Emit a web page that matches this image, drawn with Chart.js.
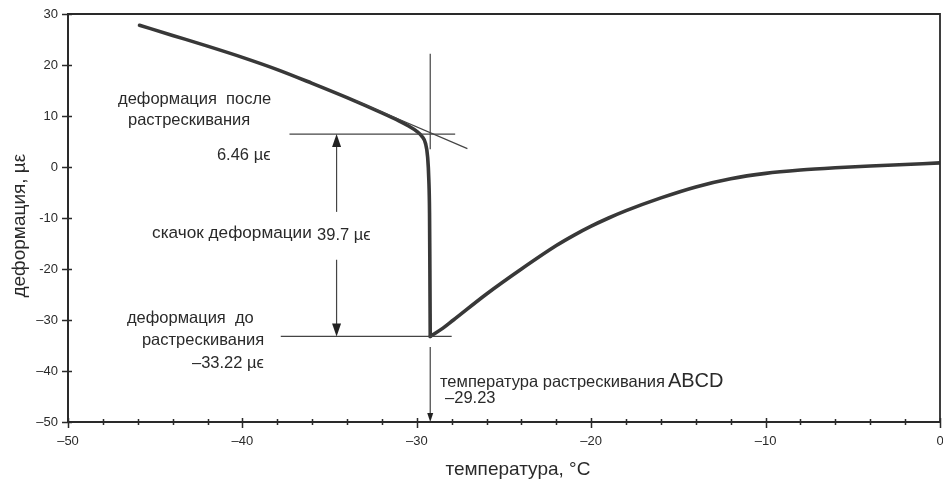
<!DOCTYPE html>
<html>
<head>
<meta charset="utf-8">
<script src="https://cdn.jsdelivr.net/npm/chart.js@4/dist/chart.umd.min.js"></script>
<style>
  html, body { margin: 0; padding: 0; background: #fff; }
  #wrap { width: 943px; height: 482px; }
</style>
</head>
<body>
<div id="wrap"><canvas id="c" width="943" height="482"></canvas></div>
<script>
// Cooling branch: strain (µε) vs temperature (°C) until the specimen cracks
const coolingTemp   = [-45.9, -44, -42, -40, -38, -36, -34, -32, -31, -30.5, -30, -29.7, -29.5, -29.38, -29.31, -29.27, -29.25, -29.23];
const coolingStrain = [27.8, 25.8, 23.7, 21.5, 19.1, 16.4, 13.6, 10.6, 9.0, 8.1, 7.0, 6.0, 4.6, 2.0, -2.5, -9, -20, -33.22];

// Branch after cracking: strain recovers towards zero
const releaseTemp   = [-29.23, -28.5, -27.9, -26, -24, -22, -21, -20, -19, -18, -16, -14, -12, -10, -8, -6, -4, -2, 0];
const releaseStrain = [-33.22, -31.6, -30.0, -24.9, -20.0, -15.4, -13.4, -11.6, -10.0, -8.55, -6.05, -3.9, -2.3, -1.25, -0.6, -0.15, 0.2, 0.5, 0.8];

// Characteristic values of the test
const crackTemp = -29.23;
const strainAfterCrack = 6.46;
const strainBeforeCrack = -33.22;
const strainJump = 39.7;

// Axis ticks
const xTickValues = [-50, -40, -30, -20, -10, 0];
const xTickLabels = ['–50', '–40', '–30', '–20', '–10', '0'];
const yTickValues = [-50, -40, -30, -20, -10, 0, 10, 20, 30];
const yTickLabels = ['–50', '–40', '–30', '-20', '-10', '0', '10', '20', '30'];

const FONT = '"Liberation Sans", Arial, sans-serif';
const INK = '#2a2a2a';

const pts = (xs, ys) => xs.map((x, i) => ({ x, y: ys[i] }));
const seg = (x1, y1, x2, y2) => [{ x: x1, y: y1 }, { x: x2, y: y2 }];

const thin = { borderColor: '#444', borderWidth: 1.2, pointRadius: 0, tension: 0, fill: false };
const curve = { borderColor: '#383838', borderWidth: 3.6, pointRadius: 0, fill: false,
                cubicInterpolationMode: 'monotone', borderCapStyle: 'round', borderJoinStyle: 'round' };

const datasets = [
  // tangent to the cooling branch
  { ...thin, data: seg(-33.5, 13.0, -27.1, 3.6) },
  // strain level after cracking
  { ...thin, data: seg(-37.3, strainAfterCrack, -27.8, strainAfterCrack) },
  // strain level before cracking
  { ...thin, data: seg(-37.8, strainBeforeCrack, -28.0, strainBeforeCrack) },
  // crack temperature marker
  { ...thin, data: seg(crackTemp, 22.2, crackTemp, 3.5) },
  // strain jump arrow shafts
  { ...thin, data: seg(-34.6, -8.8, -34.6, strainAfterCrack - 2) },
  { ...thin, data: seg(-34.6, -18.2, -34.6, strainBeforeCrack + 2) },
  // crack temperature arrow shaft
  { ...thin, data: seg(crackTemp, -35.3, crackTemp, -48.5) },
  // measured curve
  { ...curve, data: pts(coolingTemp, coolingStrain) },
  { ...curve, data: pts(releaseTemp, releaseStrain) }
];

// Text notes placed in data coordinates
const notes = [
  { t: 'деформация  после', x: -47.13, y: 12.35, size: 16.5 },
  { t: 'растрескивания', x: -46.56, y: 8.24, size: 16.5 },
  { t: strainAfterCrack + ' µϵ', x: -41.46, y: 1.37, size: 16.5 },
  { t: 'скачок деформации', x: -45.18, y: -13.92, size: 17.2 },
  { t: strainJump + ' µϵ', x: -35.72, y: -14.3, size: 16.5 },
  { t: 'деформация  до', x: -46.62, y: -30.6, size: 16.5 },
  { t: 'растрескивания', x: -45.76, y: -34.9, size: 16.5 },
  { t: '–' + Math.abs(strainBeforeCrack) + ' µϵ', x: -42.89, y: -39.4, size: 16.5 },
  { t: 'температура растрескивания', x: -28.67, y: -43.1, size: 16.5 },
  { t: 'ABCD', x: -15.6, y: -43.1, size: 20 },
  { t: '–' + Math.abs(crackTemp), x: -28.38, y: -46.27, size: 16.5 }
];

// Arrow heads: tip position in data coordinates and direction
const heads = [
  { x: -34.6, y: strainAfterCrack, dir: -1, w: 9, l: 13 },
  { x: -34.6, y: strainBeforeCrack, dir: 1, w: 9, l: 13 },
  { x: crackTemp, y: -50, dir: 1, w: 6, l: 9 }
];

const decorations = {
  id: 'decorations',
  afterDraw(chart) {
    const { ctx, chartArea: a, scales: { x, y } } = chart;
    ctx.save();
    ctx.strokeStyle = INK;
    // frame on top and right
    ctx.lineWidth = 1.8;
    ctx.beginPath();
    ctx.moveTo(a.left, a.top); ctx.lineTo(a.right, a.top); ctx.lineTo(a.right, a.bottom);
    ctx.stroke();
    // tick marks crossing the axes
    ctx.lineWidth = 1.5;
    ctx.beginPath();
    for (let v = -50; v <= 0; v += 2) {
      const px = Math.round(x.getPixelForValue(v)) + 0.5;
      const major = v % 10 === 0;
      ctx.moveTo(px, a.bottom - (major ? 4 : 3));
      ctx.lineTo(px, a.bottom + (major ? 6 : 3));
    }
    for (const v of yTickValues) {
      const py = Math.round(y.getPixelForValue(v)) + 0.5;
      ctx.moveTo(a.left - 6, py);
      ctx.lineTo(a.left + 4, py);
    }
    ctx.stroke();
    // arrow heads
    ctx.fillStyle = '#222';
    for (const h of heads) {
      const px = x.getPixelForValue(h.x), py = y.getPixelForValue(h.y);
      ctx.beginPath();
      ctx.moveTo(px, py);
      ctx.lineTo(px - h.w / 2, py - h.dir * h.l);
      ctx.lineTo(px + h.w / 2, py - h.dir * h.l);
      ctx.closePath();
      ctx.fill();
    }
    // notes
    ctx.fillStyle = INK;
    ctx.textBaseline = 'alphabetic';
    ctx.textAlign = 'left';
    for (const n of notes) {
      ctx.font = n.size + 'px ' + FONT;
      ctx.fillText(n.t, x.getPixelForValue(n.x), y.getPixelForValue(n.y));
    }
    // axis titles
    ctx.font = '19px ' + FONT;
    ctx.textAlign = 'center';
    ctx.fillText('температура, °C', x.getPixelForValue(-24.2), 475);
    ctx.save();
    ctx.translate(25, y.getPixelForValue(-11.5));
    ctx.rotate(-Math.PI / 2);
    ctx.fillText('деформация, µε', 0, 0);
    ctx.restore();
    ctx.restore();
  }
};

new Chart(document.getElementById('c'), {
  type: 'line',
  data: { datasets },
  options: {
    responsive: false,
    animation: false,
    events: [],
    layout: { padding: { top: 14, right: 3, left: 0, bottom: 0 } },
    plugins: { legend: { display: false }, tooltip: { enabled: false } },
    scales: {
      x: {
        type: 'linear', min: -50, max: 0,
        afterFit: s => { s.height = 60; s.paddingLeft = 0; s.paddingRight = 0; },
        afterBuildTicks: s => { s.ticks = xTickValues.map(v => ({ value: v })); },
        ticks: {
          padding: 12, color: INK, font: { family: FONT, size: 13 },
          maxRotation: 0, autoSkip: false,
          callback: v => { const i = xTickValues.indexOf(v); return i >= 0 ? xTickLabels[i] : ''; }
        },
        grid: { display: true, drawOnChartArea: false, drawTicks: false },
        border: { display: true, color: INK, width: 2 }
      },
      y: {
        type: 'linear', min: -50, max: 30,
        afterFit: s => { s.width = 68; s.paddingTop = 0; s.paddingBottom = 0; },
        afterBuildTicks: s => { s.ticks = yTickValues.map(v => ({ value: v })); },
        ticks: {
          padding: 10, color: INK, font: { family: FONT, size: 13 },
          autoSkip: false,
          callback: v => { const i = yTickValues.indexOf(v); return i >= 0 ? yTickLabels[i] : ''; }
        },
        grid: { display: true, drawOnChartArea: false, drawTicks: false },
        border: { display: true, color: INK, width: 2 }
      }
    }
  },
  plugins: [decorations]
});
</script>
</body>
</html>
